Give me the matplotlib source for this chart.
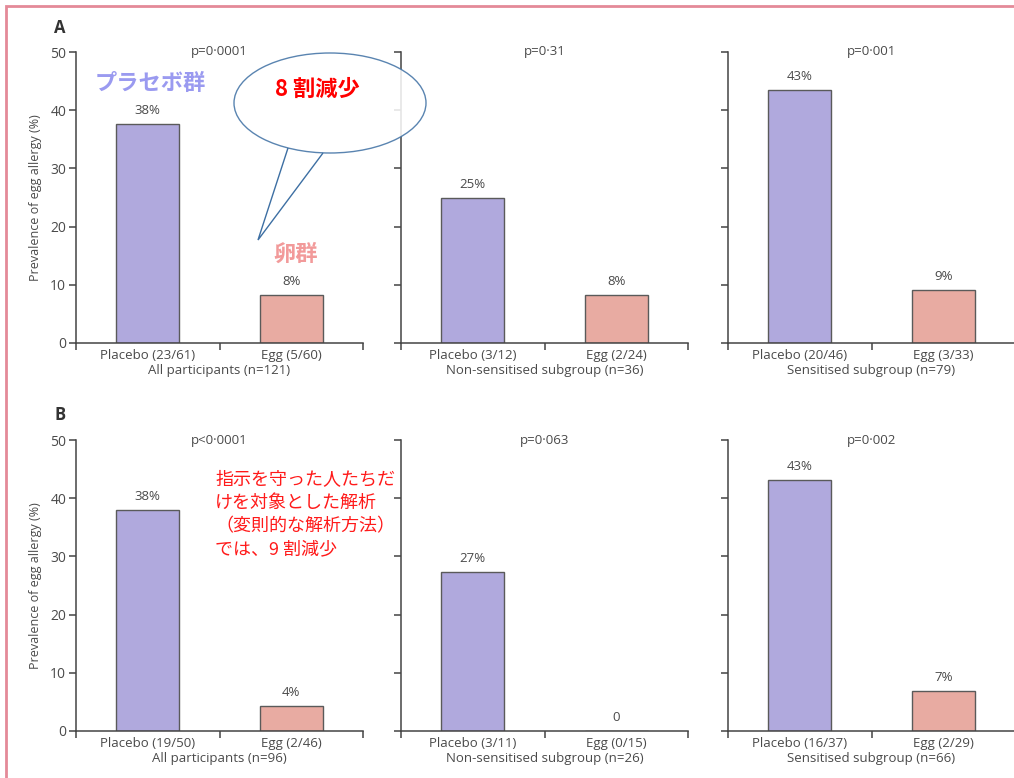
import matplotlib
matplotlib.use("Agg")
import matplotlib.pyplot as plt
from matplotlib.patches import Ellipse, Polygon, Rectangle

plt.rcParams['font.family'] = ['Open Sans', 'Noto Sans CJK JP', 'DejaVu Sans']

W, H = 1014, 778

# data
groups = ["Placebo", "Egg"]
subgroups = ["All participants", "Non-sensitised subgroup", "Sensitised subgroup"]

a_counts = [("23/61", "5/60"), ("3/12", "2/24"), ("20/46", "3/33")]
a_n = [121, 36, 79]
a_values = [(37.7, 8.3), (25.0, 8.3), (43.5, 9.1)]
a_labels = [("38%", "8%"), ("25%", "8%"), ("43%", "9%")]
a_pvals = ["p=0·0001", "p=0·31", "p=0·001"]

b_counts = [("19/50", "2/46"), ("3/11", "0/15"), ("16/37", "2/29")]
b_n = [96, 26, 66]
b_values = [(38.0, 4.3), (27.3, 0.0), (43.2, 6.9)]
b_labels = [("38%", "4%"), ("27%", "0"), ("43%", "7%")]
b_pvals = ["p<0·0001", "p=0·063", "p=0·002"]

PLACEBO_C = "#b0a9dd"
EGG_C = "#e8aba2"
EDGE_C = "#5a5a5a"
TXT_C = "#4a4a4a"

fig = plt.figure(figsize=(W / 100, H / 100), dpi=100)

col_left = [76, 401, 728]
ax_w = 287
row_bottom = [343, 731]   # pixel y of value 0
ax_h = 291


def draw_panel(ax, values, labels, counts, n, pval, subgroup, first):
    ax.bar([0.5, 1.5], values, width=0.44, color=[PLACEBO_C, EGG_C],
           edgecolor=EDGE_C, linewidth=1.0)
    for x, v, lab in zip([0.5, 1.5], values, labels):
        ax.text(x, v + 1.2, lab, ha='center', va='bottom', fontsize=9.5, color=TXT_C)
    ax.set_xlim(0, 2)
    ax.set_ylim(0, 50)
    ax.spines['top'].set_visible(False)
    ax.spines['right'].set_visible(False)
    for s in ['left', 'bottom']:
        ax.spines[s].set_color("#444444")
        ax.spines[s].set_linewidth(1.1)
    ax.set_xticks([0, 1, 2])
    ax.set_xticklabels([])
    ax.set_xticks([0.5, 1.5], minor=True)
    ax.set_xticklabels([f"{g} ({c})" for g, c in zip(groups, counts)], minor=True,
                       fontsize=9.5, color=TXT_C)
    ax.tick_params(axis='x', which='minor', length=0, pad=4)
    ax.tick_params(axis='x', which='major', length=5, width=1.1, color="#444444")
    ax.set_yticks([0, 10, 20, 30, 40, 50])
    ax.tick_params(axis='y', length=5, width=1.1, color="#444444", labelsize=10,
                   labelcolor=TXT_C, pad=2)
    if not first:
        ax.set_yticklabels([])
    else:
        ax.set_ylabel("Prevalence of egg allergy (%)", fontsize=9, color=TXT_C, labelpad=6)
    ax.set_xlabel(f"{subgroup} (n={n})", fontsize=9.5, color=TXT_C, labelpad=2)
    ax.text(1.0, 50, pval, ha='center', va='center', fontsize=9.5, color=TXT_C)


for r, (vals, labs, cnts, ns, pv) in enumerate([
        (a_values, a_labels, a_counts, a_n, a_pvals),
        (b_values, b_labels, b_counts, b_n, b_pvals)]):
    for c in range(3):
        ax = fig.add_axes([col_left[c] / W, 1 - row_bottom[r] / H, ax_w / W, ax_h / H])
        draw_panel(ax, vals[c], labs[c], cnts[c], ns[c], pv[c], subgroups[c], c == 0)

fig.text(54 / W, 1 - 28 / H, "A", fontsize=12, weight='bold', color="#333333", va='center')
fig.text(54 / W, 1 - 415 / H, "B", fontsize=12, weight='bold', color="#333333", va='center')

# annotations in Japanese
jp = ['Noto Sans CJK JP', 'DejaVu Sans']
fig.text(150 / W, 1 - 83 / H, "プラセボ群", family=jp, fontsize=16, weight='bold',
         color="#9a9af0", ha='center', va='center')
fig.text(296 / W, 1 - 254 / H, "卵群", family=jp, fontsize=16, weight='bold',
         color="#f29a9a", ha='center', va='center')

# speech bubble
bubble = Ellipse((330 / W, 1 - 103 / H), 192 / W, 100 / H, transform=fig.transFigure,
                 facecolor='white', edgecolor="#3d6fa3", linewidth=1.0, alpha=0.85, zorder=5)
fig.patches.append(bubble)
tail = Polygon([(288 / W, 1 - 148 / H), (258 / W, 1 - 240 / H), (323 / W, 1 - 153 / H)],
               closed=False, transform=fig.transFigure, fill=False,
               edgecolor="#3d6fa3", linewidth=1.0, zorder=6)
fig.patches.append(tail)
fig.text(317 / W, 1 - 89 / H, "8 割減少", family=jp, fontsize=16, weight='bold',
         color="#ff0000", ha='center', va='center', zorder=7)

note_lines = ["指示を守った人たちだ", "けを対象とした解析", "（変則的な解析方法）", "では、9 割減少"]
for i, line in enumerate(note_lines):
    fig.text(215 / W, 1 - (479 + i * 23.5) / H, line, family=jp, fontsize=13,
             color="#ff1a1a", ha='left', va='center')

# pink frame
frame = Rectangle((6 / W, -0.05), 1.2, 1 - 6 / H + 0.05, transform=fig.transFigure,
                  fill=False, edgecolor="#e48a98", linewidth=2.0)
fig.patches.append(frame)

fig.savefig("out.png", dpi=100)
